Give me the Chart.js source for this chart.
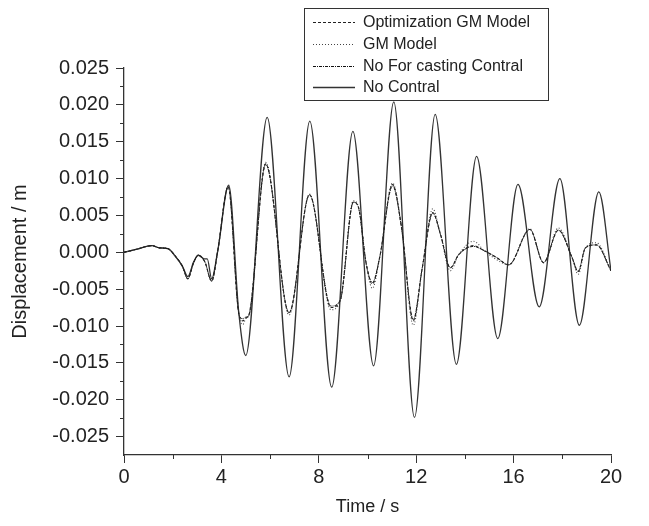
<!DOCTYPE html>
<html>
<head>
<meta charset="utf-8">
<script src="https://cdn.jsdelivr.net/npm/chart.js@4.4.0/dist/chart.umd.min.js"></script>
<style>
  html, body { margin: 0; padding: 0; background: #fff; }
  #wrap { width: 649px; height: 526px; }
</style>
</head>
<body>
<div id="wrap"><canvas id="dispChart" width="649" height="526"></canvas></div>
<script>
// legend order
var seriesNames = ["Optimization GM Model", "GM Model", "No For casting Contral", "No Contral"];

// time points (s) shared by the three controlled responses
var tCtrl = [0, 0.5, 1.15, 1.45, 1.8, 2.1, 2.4, 2.62, 2.86, 3.05, 3.32, 3.6, 3.85, 4.28, 4.72, 4.88, 5.0, 5.12,
  5.82, 6.78, 7.62, 8.5, 8.88, 9.42, 9.62, 9.95, 10.2, 10.5, 11.03, 11.4, 11.88, 12.25, 12.68, 13.0, 13.4, 13.75,
  14.35, 14.8, 15.3, 15.8, 16.67, 17.23, 17.84, 18.4, 18.65, 18.95, 19.4, 20];

var optGM = [0, 0.0004, 0.0009, 0.0006, 0.0005, -0.0005, -0.0019, -0.0036, -0.0014, -0.0004, -0.0013, -0.0039, 0.0002, 0.0089, -0.0084, -0.0093, -0.0089, -0.0086,
  0.0120, -0.0082, 0.0078, -0.0075, -0.0065, 0.0068, 0.0062, -0.0016, -0.0043, -0.0007, 0.0092, 0.0033, -0.0093, -0.0021, 0.0054, 0.0024, -0.0021, -0.0003,
  0.0009, 0.0002, -0.0007, -0.0017, 0.0031, -0.0014, 0.0030, -0.0007, -0.0026, 0.0006, 0.0010, -0.0025];

var gmModel = [0, 0.0004, 0.0009, 0.0006, 0.0005, -0.0005, -0.0019, -0.0036, -0.0014, -0.0004, -0.0013, -0.0039, 0.0002, 0.0089, -0.0084, -0.0098, -0.0090, -0.0086,
  0.0122, -0.0085, 0.0079, -0.0078, -0.0066, 0.0070, 0.0062, -0.0016, -0.0049, -0.0007, 0.0094, 0.0033, -0.0099, -0.0021, 0.0059, 0.0024, -0.0025, -0.0003,
  0.0015, 0.0002, -0.0010, -0.0017, 0.0032, -0.0014, 0.0033, -0.0007, -0.0030, 0.0006, 0.0013, -0.0025];

var noForecast = [0, 0.0004, 0.0009, 0.0006, 0.0005, -0.0005, -0.0019, -0.0036, -0.0014, -0.0004, -0.0013, -0.0039, 0.0002, 0.0089, -0.0084, -0.0090, -0.0088, -0.0086,
  0.0119, -0.0082, 0.0078, -0.0073, -0.0065, 0.0068, 0.0062, -0.0016, -0.0041, -0.0007, 0.0090, 0.0033, -0.0091, -0.0021, 0.0053, 0.0024, -0.0021, -0.0003,
  0.0008, 0.0002, -0.0007, -0.0017, 0.0031, -0.0014, 0.0030, -0.0007, -0.0026, 0.0006, 0.0010, -0.0025];

// uncontrolled response
var tFree = [0, 0.5, 1.15, 1.45, 1.8, 2.1, 2.4, 2.62, 2.86, 3.05, 3.3, 3.42, 3.6, 3.85, 4.3, 4.72, 5.0, 5.88, 6.78, 7.63,
  8.53, 9.4, 10.25, 11.08, 11.93, 12.78, 13.65, 14.48, 15.35, 16.18, 17.05, 17.9, 18.7, 19.5, 20];
var noControl = [0, 0.0004, 0.0009, 0.0006, 0.0005, -0.0005, -0.0019, -0.0033, -0.0013, -0.0004, -0.0009, -0.0009, -0.0036, 0.0002, 0.0091, -0.0084, -0.0140, 0.0183, -0.0169, 0.0178,
  -0.0183, 0.0164, -0.0154, 0.0204, -0.0224, 0.0187, -0.0152, 0.0130, -0.0117, 0.0092, -0.0074, 0.0100, -0.0099, 0.0082, -0.0025];

var xTicks = [0, 4, 8, 12, 16, 20];
var xMinor = [2, 6, 10, 14, 18];
var yTicks = [-0.025, -0.02, -0.015, -0.01, -0.005, 0, 0.005, 0.01, 0.015, 0.02, 0.025];
var yMinor = [-0.0225, -0.0175, -0.0125, -0.0075, -0.0025, 0.0025, 0.0075, 0.0125, 0.0175, 0.0225];

var fontFam = '"Liberation Sans", Arial, Helvetica, sans-serif';

function pts(t, v) {
  return t.map(function (x, i) { return { x: x, y: v[i] }; });
}

// short minor ticks on both axes
var minorTicks = {
  id: 'minorTicks',
  afterDraw: function (chart) {
    var ctx = chart.ctx, a = chart.chartArea;
    var xs = chart.scales.x, ys = chart.scales.y;
    ctx.save();
    ctx.strokeStyle = '#333';
    ctx.lineWidth = 1;
    ctx.beginPath();
    xMinor.forEach(function (v) {
      var px = Math.round(xs.getPixelForValue(v)) + 0.5;
      ctx.moveTo(px, a.bottom);
      ctx.lineTo(px, a.bottom + 4);
    });
    yMinor.forEach(function (v) {
      var py = Math.round(ys.getPixelForValue(v)) + 0.5;
      ctx.moveTo(a.left - 4, py);
      ctx.lineTo(a.left, py);
    });
    ctx.stroke();
    ctx.restore();
  }
};

// boxed legend in the upper right like the original
var legendBox = {
  id: 'legendBox',
  afterDraw: function (chart) {
    var ctx = chart.ctx;
    ctx.save();
    ctx.fillStyle = '#fff';
    ctx.fillRect(304, 8, 244, 92);
    ctx.strokeStyle = '#333';
    ctx.lineWidth = 1;
    ctx.strokeRect(304.5, 8.5, 244, 92);
    ctx.font = '16px ' + fontFam;
    ctx.textBaseline = 'middle';
    chart.data.datasets.forEach(function (ds, i) {
      var y = Math.round(22 + i * 21.8) + 0.5;
      ctx.strokeStyle = ds.borderColor;
      ctx.lineWidth = ds.borderWidth;
      ctx.setLineDash(ds.borderDash || []);
      ctx.beginPath();
      ctx.moveTo(313, y);
      ctx.lineTo(355, y);
      ctx.stroke();
      ctx.setLineDash([]);
      ctx.fillStyle = '#222';
      ctx.fillText(ds.label, 363, y);
    });
    ctx.restore();
  }
};

var ctx = document.getElementById('dispChart').getContext('2d');
var chart = new Chart(ctx, {
  type: 'line',
  data: {
    datasets: [
      { label: seriesNames[0], data: pts(tCtrl, optGM), borderColor: '#222', borderWidth: 1.1, borderDash: [3, 2] },
      { label: seriesNames[1], data: pts(tCtrl, gmModel), borderColor: '#444', borderWidth: 1.1, borderDash: [1, 2] },
      { label: seriesNames[2], data: pts(tCtrl, noForecast), borderColor: '#111', borderWidth: 1, borderDash: [3, 1, 1, 1] },
      { label: seriesNames[3], data: pts(tFree, noControl), borderColor: '#333', borderWidth: 1.3 }
    ]
  },
  options: {
    responsive: false,
    animation: false,
    devicePixelRatio: 1,
    layout: { padding: { top: 68, right: 38, left: 0, bottom: 0 } },
    elements: {
      point: { radius: 0 },
      line: { cubicInterpolationMode: 'monotone', fill: false }
    },
    plugins: {
      legend: { display: false },
      tooltip: { enabled: false }
    },
    scales: {
      x: {
        type: 'linear',
        min: 0,
        max: 20,
        afterBuildTicks: function (s) { s.ticks = xTicks.map(function (v) { return { value: v }; }); },
        afterFit: function (s) { s.height = 71; },
        grid: { drawOnChartArea: false, drawTicks: true, tickLength: 8, tickColor: '#333', tickWidth: 1 },
        border: { color: '#333', width: 1.3 },
        ticks: { color: '#222', autoSkip: false, maxRotation: 0, padding: 2, font: { size: 20, family: fontFam } },
        title: { display: true, text: 'Time / s', color: '#222', font: { size: 18, family: fontFam }, padding: { top: 2, bottom: 8 } }
      },
      y: {
        type: 'linear',
        min: -0.0275,
        max: 0.025,
        afterBuildTicks: function (s) { s.ticks = yTicks.map(function (v) { return { value: v }; }); },
        afterFit: function (s) { s.width = 124; },
        grid: { drawOnChartArea: false, drawTicks: true, tickLength: 8, tickColor: '#333', tickWidth: 1 },
        border: { color: '#333', width: 1.3 },
        ticks: {
          color: '#222', autoSkip: false, padding: 7, font: { size: 20, family: fontFam },
          callback: function (v) { return v.toFixed(3); }
        },
        title: { display: true, text: 'Displacement / m', color: '#222', font: { size: 20, family: fontFam }, padding: { top: 8, bottom: 4 } }
      }
    }
  },
  plugins: [minorTicks, legendBox]
});
</script>
</body>
</html>
